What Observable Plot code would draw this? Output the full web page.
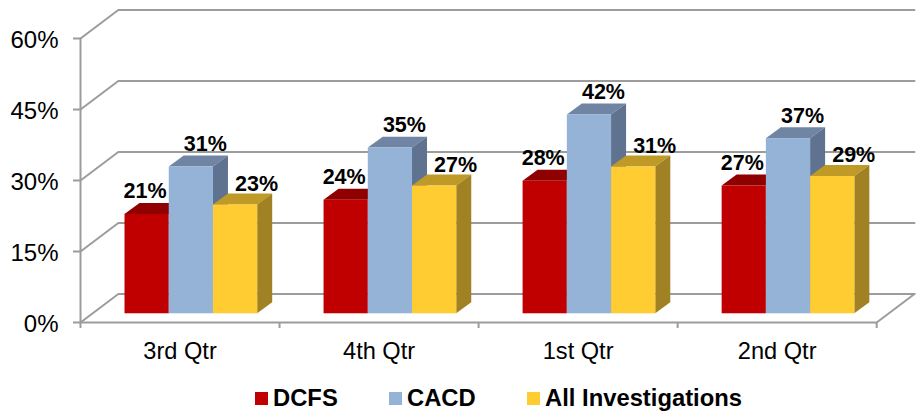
<!DOCTYPE html>
<html><head><meta charset="utf-8">
<script src="https://cdn.jsdelivr.net/npm/d3@7"></script>
<script src="https://cdn.jsdelivr.net/npm/@observablehq/plot@0.6"></script>
<style>
html,body{margin:0;padding:0;background:#fff;font-family:"Liberation Sans",Arial,sans-serif}
#chart svg{display:block}
#legend{position:relative;height:41px;width:919px;font-weight:bold;font-size:23.8px;color:#000}
#legend .sw{position:absolute;top:20px;width:13px;height:13px}
#legend .tx{position:absolute;top:12px;line-height:27px;white-space:nowrap}
</style></head><body>
<div id="chart"></div><div id="legend"></div>
<script>
const categories = ["3rd Qtr","4th Qtr","1st Qtr","2nd Qtr"];
const seriesNames = ["DCFS","CACD","All Investigations"];
const dcfs = [21,24,28,27];
const cacd = [31,35,42,37];
const allInv = [23,27,31,29];
const yTicks = [0,15,30,45,60];
const frontColors = ["#c00000","#95b3d7","#ffcc31"];
const topColors = ["#8f0000","#7085a3","#bf9a27"];
const sideColors = ["#700000","#5f7390","#a08124"];
const labelDx = [-2,14,21];
const labelDy = [-23,-23,-21];
const legendSwatchX = [255,389,527];
const legendTextX = [273,407,545];

// Depth of the pseudo-3D box and of the bars, in data units
const wallX = 0.19, wallY = 6.02;
const barX = 0.0754, barY = 2.32, baseY = 1.84, barStart = 0.2236, barW = 0.2222;
const xMax = 4.19, yMax = 66;

const values = [dcfs,cacd,allInv];
const grid = yTicks.flatMap(v => [
  {k:v,x:0,y:v},{k:v,x:wallX,y:v+wallY},{k:v,x:xMax,y:v+wallY}
]);
const floor = [{x:0,y:0},{x:4,y:0},{x:4+wallX,y:wallY}];
const leftAxis = [{x:0,y:0},{x:0,y:60}];

const barMarks = values.flatMap((vals,s) => {
  const rows = vals.map((v,i) => {
    const xl = i + barStart + s*barW, xr = xl + barW, top = baseY + v;
    return {i,xl,xr,top,lo:baseY};
  });
  const topFace = rows.flatMap(r => [
    {i:r.i,y:r.top,a:r.xl,b:r.xr},
    {i:r.i,y:r.top+barY,a:r.xl+barX,b:r.xr+barX}
  ]);
  const sideFace = rows.flatMap(r => [
    {i:r.i,x:r.xr,lo:r.lo,hi:r.top},
    {i:r.i,x:r.xr+barX,lo:r.lo+barY,hi:r.top+barY}
  ]);
  return [
    Plot.area(topFace,{x1:"a",x2:"b",y1:"y",z:"i",fill:topColors[s]}),
    Plot.area(sideFace,{x1:"x",y1:"lo",y2:"hi",z:"i",fill:sideColors[s]}),
    Plot.rect(rows,{x1:"xl",x2:"xr",y1:"lo",y2:"top",fill:frontColors[s]})
  ];
});

const labelMarks = values.map((vals,s) => Plot.text(vals.map((v,i)=>({v,i})),{
  x:d => d.i + barStart + (s+0.5)*barW,
  y:d => baseY + d.v,
  text:d => d.v + "%",
  dx:labelDx[s], dy:labelDy[s],
  fontSize:21.5, fontWeight:"bold", fill:"#000", textAnchor:"middle"
}));

const gridColor = "#9c9c9c";
const plot = Plot.plot({
  width:919, height:372,
  marginLeft:80, marginRight:5, marginTop:9.6, marginBottom:50,
  style:{fontFamily:"'Liberation Sans',Arial,sans-serif",background:"#fff",color:"#000"},
  x:{domain:[0,xMax]},
  y:{domain:[0,yMax]},
  marks:[
    Plot.line(grid,{x:"x",y:"y",z:"k",stroke:gridColor,strokeWidth:2}),
    Plot.line(floor,{x:"x",y:"y",stroke:gridColor,strokeWidth:2}),
    Plot.line(leftAxis,{x:"x",y:"y",stroke:gridColor,strokeWidth:2}),
    Plot.axisY({ticks:yTicks,tickSize:7,stroke:gridColor,strokeWidth:2,tickFormat:()=>"",label:null}),
    Plot.axisY({ticks:yTicks,tickSize:0,tickFormat:d=>d+"%",tickPadding:22,fontSize:24,label:null,fill:"#000",dy:2}),
    Plot.axisX({ticks:[0,1,2,3,4],tickFormat:()=>"",tickSize:6,stroke:gridColor,strokeWidth:2,label:null}),
    Plot.axisX({ticks:[0.5,1.5,2.5,3.5],tickFormat:d=>categories[Math.floor(d)],tickSize:0,tickPadding:20,fontSize:23.6,label:null,fill:"#000"}),
    ...barMarks,
    ...labelMarks
  ]
});
document.getElementById("chart").appendChild(plot);

const legend = document.getElementById("legend");
seriesNames.forEach((n,i)=>{
  const sw=document.createElement("span");sw.className="sw";sw.style.left=legendSwatchX[i]+"px";sw.style.background=frontColors[i];
  const tx=document.createElement("span");tx.className="tx";tx.style.left=legendTextX[i]+"px";tx.textContent=n;
  legend.append(sw,tx);
});
</script>
</body></html>
